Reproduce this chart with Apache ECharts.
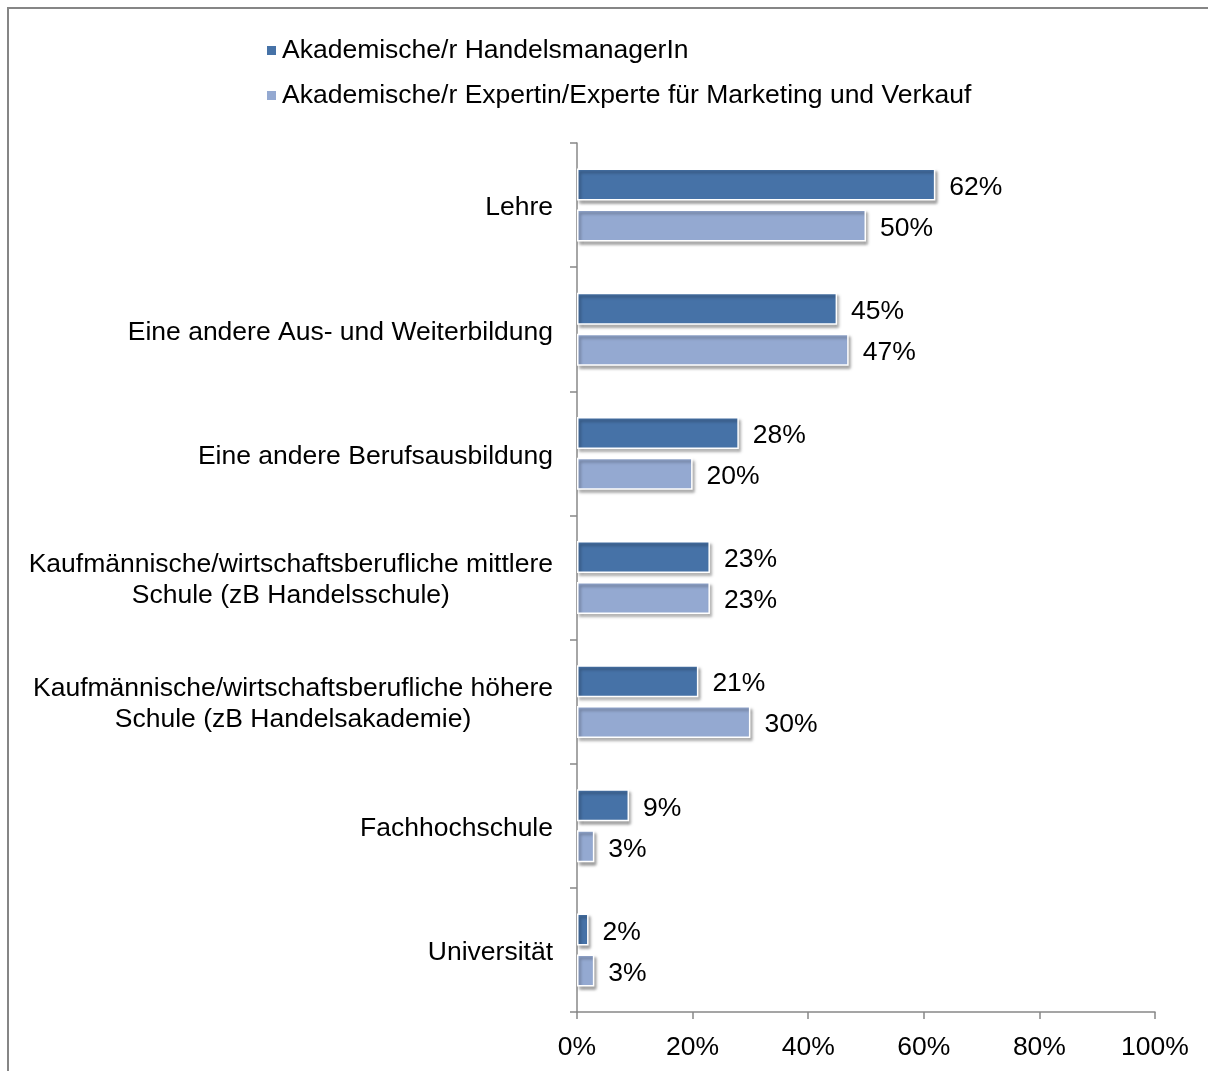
<!DOCTYPE html>
<html>
<head>
<meta charset="utf-8">
<script src="https://cdn.jsdelivr.net/npm/echarts@6/dist/echarts.min.js"></script>
<style>
html,body{margin:0;padding:0;background:#fff;}
#chart{width:1208px;height:1071px;}
</style>
</head>
<body>
<div id="chart"></div>
<script>
var categories = [
	'Lehre',
	'Eine andere Aus- und Weiterbildung',
	'Eine andere Berufsausbildung',
	'Kaufmännische/wirtschaftsberufliche mittlere\nSchule (zB Handelsschule)',
	'Kaufmännische/wirtschaftsberufliche höhere\nSchule (zB Handelsakademie)',
	'Fachhochschule',
	'Universität'
];
var seriesNames = [
	'Akademische/r HandelsmanagerIn',
	'Akademische/r Expertin/Experte für Marketing und Verkauf'
];
var managerValues = [62, 45, 28, 23, 21, 9, 2];
var expertValues = [50, 47, 20, 23, 30, 3, 3];
var colors = ['#4672A7', '#94A9D1'];

var myChart = echarts.init(document.getElementById('chart'));

var barStyle = function(c){
	return {
		color: c,
		borderColor: '#fff',
		borderWidth: 1.5,
		shadowColor: 'rgba(0,0,0,0.35)',
		shadowBlur: 3,
		shadowOffsetX: 2,
		shadowOffsetY: 3
	};
};
var labelStyle = {
	show: true,
	position: 'right',
	distance: 14,
	offset: [0, 3],
	fontFamily: 'Liberation Sans',
	fontSize: 26.5,
	color: '#000',
	formatter: '{c}%'
};

var option = {
	animation: false,
	textStyle: {fontFamily: 'Liberation Sans'},
	graphic: [{
		type: 'rect',
		shape: {x: 8, y: 8, width: 1220, height: 1090},
		style: {fill: 'none', stroke: '#868686', lineWidth: 2},
		silent: true
	}],
	legend: {
		orient: 'vertical',
		left: 260,
		top: 32,
		itemWidth: 11,
		itemHeight: 11,
		itemGap: 18,
		icon: 'rect',
		textStyle: {fontSize: 26.5, color: '#000', fontFamily: 'Liberation Sans'},
		data: seriesNames
	},
	grid: {left: 577, right: 53, top: 143, bottom: 59, containLabel: false},
	xAxis: {
		type: 'value',
		min: 0,
		max: 100,
		interval: 20,
		axisLine: {show: true, lineStyle: {color: '#888', width: 1.5}},
		axisTick: {show: true, length: 7, lineStyle: {color: '#888', width: 1.5}},
		splitLine: {show: false},
		axisLabel: {
			formatter: '{value}%',
			fontSize: 26.5,
			color: '#000',
			margin: 22,
			fontFamily: 'Liberation Sans'
		}
	},
	yAxis: {
		type: 'category',
		inverse: true,
		data: categories,
		axisLine: {show: true, lineStyle: {color: '#888', width: 1.5}},
		axisTick: {show: true, length: 7, lineStyle: {color: '#888', width: 1.5}},
		axisLabel: {
			margin: 24,
			color: '#000',
			fontSize: 26.5,
			lineHeight: 31,
			padding: [6, 0, 0, 0],
			fontFamily: 'Liberation Sans',
			formatter: function(v){
				return v.split('\n').map(function(s){ return '{c|' + s + '}'; }).join('\n');
			},
			rich: {
				c: {align: 'center', fontSize: 26.5, lineHeight: 31, color: '#000', fontFamily: 'Liberation Sans'}
			}
		}
	},
	series: [
		{
			name: seriesNames[0],
			type: 'bar',
			data: managerValues,
			barWidth: 32,
			barGap: '28%',
			itemStyle: barStyle(colors[0]),
			label: labelStyle
		},
		{
			name: seriesNames[1],
			type: 'bar',
			data: expertValues,
			barWidth: 32,
			barGap: '28%',
			itemStyle: barStyle(colors[1]),
			label: labelStyle
		}
	]
};
myChart.setOption(option);
</script>
</body>
</html>
